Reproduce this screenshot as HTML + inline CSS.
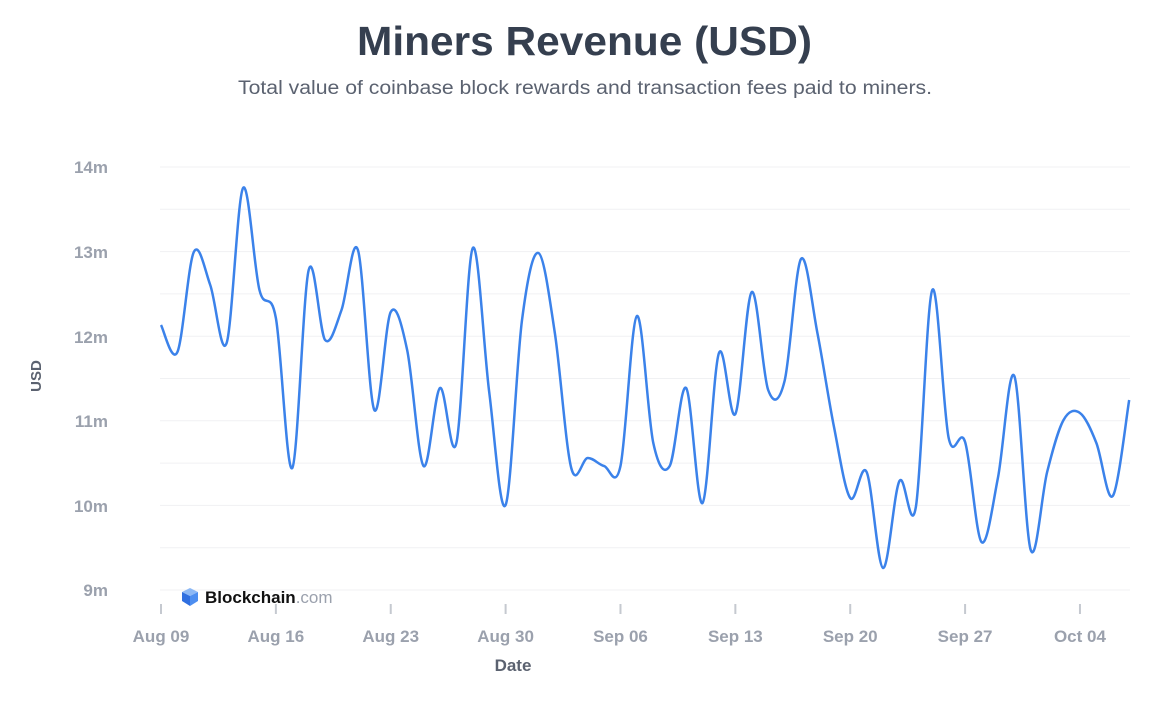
<!DOCTYPE html>
<html><head><meta charset="utf-8"><style>
body{margin:0;background:#fff;width:1160px;height:698px;overflow:hidden;font-family:"Liberation Sans",sans-serif}
</style></head><body>
<svg width="1160" height="698" xmlns="http://www.w3.org/2000/svg" font-family="Liberation Sans, sans-serif">
<text x="357" y="55" textLength="455" lengthAdjust="spacingAndGlyphs" font-size="41" font-weight="bold" fill="#353f4f">Miners Revenue (USD)</text>
<text x="238" y="94" textLength="694" lengthAdjust="spacingAndGlyphs" font-size="19" fill="#5b6270">Total value of coinbase block rewards and transaction fees paid to miners.</text>
<g stroke="#f0f1f3" stroke-width="1" id="grid"></g>
<g font-size="17" font-weight="bold" fill="#9ba1ad" text-anchor="end">
<text x="108" y="173">14m</text><text x="108" y="258">13m</text><text x="108" y="343">12m</text>
<text x="108" y="427">11m</text><text x="108" y="512">10m</text><text x="108" y="596">9m</text>
</g>
<g id="xt" font-size="17" font-weight="bold" fill="#9ba1ad" text-anchor="middle"></g>
<text x="513" y="671" text-anchor="middle" font-size="17" font-weight="bold" fill="#5b6270">Date</text>
<text transform="translate(41,376) rotate(-90)" text-anchor="middle" font-size="15" font-weight="bold" fill="#5b6270">USD</text>
<g transform="translate(182,598)"><path d="M0 -6 L8 -10 L16 -6 L8 -2 Z" fill="#8cb8f5"/><path d="M0 -6 L8 -2 L8 8 L0 3 Z" fill="#2f6fe0"/><path d="M16 -6 L8 -2 L8 8 L16 3 Z" fill="#4d8ef0"/></g>
<text x="205" y="603" font-size="17" font-weight="bold" fill="#111">Blockchain<tspan fill="#9ba1ad" font-weight="normal">.com</tspan></text>
<path id="line" fill="none" stroke="#3b82ea" stroke-width="2.5"/>
</svg>
<script>
var ns="http://www.w3.org/2000/svg",g=document.getElementById('grid');
for(var i=0;i<11;i++){var y=167+i*42.3,l=document.createElementNS(ns,'line');l.setAttribute('x1',160);l.setAttribute('x2',1130);l.setAttribute('y1',y);l.setAttribute('y2',y);g.appendChild(l);}
var labs=["Aug 09","Aug 16","Aug 23","Aug 30","Sep 06","Sep 13","Sep 20","Sep 27","Oct 04"],xt=document.getElementById('xt');
labs.forEach(function(s,k){var x=161+k*7*16.41;var t=document.createElementNS(ns,'text');t.setAttribute('x',x);t.setAttribute('y',642);t.textContent=s;xt.appendChild(t);
var l=document.createElementNS(ns,'line');l.setAttribute('x1',x);l.setAttribute('x2',x);l.setAttribute('y1',604);l.setAttribute('y2',614);l.setAttribute('stroke','#c5c9d0');l.setAttribute('stroke-width',2);xt.appendChild(l);});
var ys=[325,352,252,285,343,188,290,318,468,270,340,310,250,410,312,350,466,388,443,248,392,505,320,253,333,468,458,466,466,316,443,466,388,503,353,414,292,390,381,259,333,426,498,472,568,481,507,290,438,442,542,478,376,550,472,420,413,443,496,400];
var p=ys.map(function(y,i){return [161+i*16.41,y]});
var d="M"+p[0][0]+" "+p[0][1];
for(var i=0;i<p.length-1;i++){var p0=p[Math.max(0,i-1)],p1=p[i],p2=p[i+1],p3=p[Math.min(p.length-1,i+2)];
d+=" C"+(p1[0]+(p2[0]-p0[0])/6)+" "+(p1[1]+(p2[1]-p0[1])/6)+" "+(p2[0]-(p3[0]-p1[0])/6)+" "+(p2[1]-(p3[1]-p1[1])/6)+" "+p2[0]+" "+p2[1];}
document.getElementById('line').setAttribute('d',d);
</script>
</body></html>
